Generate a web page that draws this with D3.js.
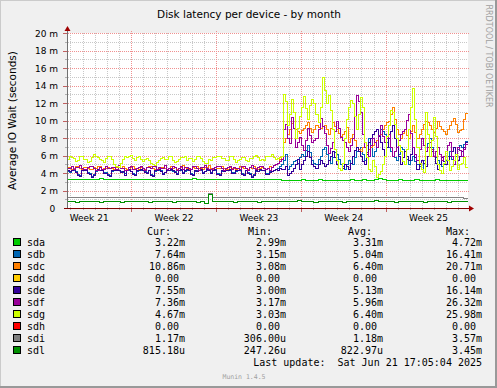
<!DOCTYPE html>
<html>
<head>
<meta charset="utf-8">
<script src="https://cdn.jsdelivr.net/npm/d3@7"></script>
<style>
body { margin:0; background:#f0f0f0; }
svg text { font-family: "DejaVu Sans", sans-serif; }
svg text.mono { font-family: "DejaVu Sans Mono", monospace; white-space: pre; }
</style>
</head>
<body>
<svg id="drawing_region"></svg>
<script>
// device names + munin palette
const devices = ['sda','sdb','sdc','sdd','sde','sdf','sdg','sdh','sdi','sdl'];
const deviceColors = ['#00cc00','#0066b3','#ff8000','#ffcc00','#330099','#990099','#ccff00','#ff0000','#808080','#008f00'];

// samples spread evenly over the 33 days ending at last update (values in ms)
// quiet devices: every 8h (100 samples)
const sda = [
  3.35,3.35,3.35,3.35,3.35,3.35,3.35,3.35,3.35,3.45,
  3.35,3.35,3.35,3.35,3.35,3.35,3.35,3.35,3.35,3.35,
  3.35,3.35,3.35,3.35,3.35,3.35,3.35,3.35,3.35,3.35,
  3.35,3.35,3.45,3.35,3.35,3.35,3.35,3.35,3.35,3.35,
  3.35,3.35,3.35,3.35,3.35,3.35,3.35,3.35,3.35,3.35,
  3.35,3.35,3.35,3.35,3.25,3.25,3.25,3.25,3.25,3.3,
  3.25,3.25,3.25,3.3,3.25,3.25,3.25,3.25,3.25,3.25,
  3.25,3.3,3.25,3.25,3.3,3.25,3.25,3.3,3.45,3.3,
  3.25,3.25,3.25,3.3,3.25,3.25,3.25,3.3,3.25,3.25,
  3.25,3.25,3.3,3.25,3.25,3.25,3.25,3.25,3.25,3.22
];
const sdd = [
  0,0,0,0,0,0,0,0,0,0, 0,0,0,0,0,0,0,0,0,0,
  0,0,0,0,0,0,0,0,0,0, 0,0,0,0,0,0,0,0,0,0,
  0,0,0,0,0,0,0,0,0,0, 0,0,0,0,0,0,0,0,0,0,
  0,0,0,0,0,0,0,0,0,0, 0,0,0,0,0,0,0,0,0,0,
  0,0,0,0,0,0,0,0,0,0, 0,0,0,0,0,0,0,0,0,0
];
const sdh = [
  0,0,0,0,0,0,0,0,0,0, 0,0,0,0,0,0,0,0,0,0,
  0,0,0,0,0,0,0,0,0,0, 0,0,0,0,0,0,0,0,0,0,
  0,0,0,0,0,0,0,0,0,0, 0,0,0,0,0,0,0,0,0,0,
  0,0,0,0,0,0,0,0,0,0, 0,0,0,0,0,0,0,0,0,0,
  0,0,0,0,0,0,0,0,0,0, 0,0,0,0,0,0,0,0,0,0
];
const sdi = [
  1.2,1.2,1.2,1.3,1.2,1.2,1.2,1.2,1.3,1.2,
  1.2,1.2,1.3,1.2,1.2,1.2,1.2,1.3,1.2,1.2,
  1.2,1.3,1.2,1.2,1.2,1.2,1.3,1.2,1.2,1.2,
  1.3,1.2,1.2,1.2,1.2,1.2,1.7,1.2,1.2,1.3,
  1.2,1.2,1.2,1.3,1.2,1.2,1.2,1.2,1.3,1.2,
  1.2,1.2,1.3,1.2,1.2,1.2,1.2,1.3,1.2,1.2,
  1.2,1.3,1.2,1.2,1.2,1.2,1.2,1.3,1.2,1.2,
  1.2,1.2,1.3,1.2,1.2,1.2,1.3,1.2,1.2,1.2,
  1.3,1.2,1.2,1.2,1.2,1.3,1.2,1.2,1.2,1.2,
  1.3,1.2,1.2,1.2,1.3,1.2,1.2,1.2,1.2,1.17
];
const sdl = [
  0.8,0.8,0.8,0.7,0.8,0.8,0.8,0.8,0.8,0.7,
  0.8,0.8,0.8,0.8,0.7,0.8,0.8,0.8,0.8,0.8,
  0.8,0.7,0.8,0.8,0.8,0.8,0.8,0.7,0.8,0.8,
  0.8,0.8,0.8,0.7,0.8,0.6,1.6,0.8,0.8,0.8,
  0.8,0.8,0.7,0.8,0.8,0.8,0.8,0.8,0.7,0.8,
  0.8,0.8,0.8,0.8,0.8,0.8,0.8,0.8,0.9,0.8,
  0.8,0.8,0.7,0.8,0.8,0.8,0.8,0.8,0.8,0.7,
  0.8,0.8,0.8,0.8,0.8,0.8,0.8,0.9,0.8,0.8,
  0.8,0.8,0.7,0.8,0.8,0.8,0.8,0.8,0.8,0.7,
  0.8,0.8,0.8,0.8,0.8,0.7,0.8,0.8,0.8,0.82
];

// busy devices: every 4h (199 samples)
const sdb = [
  4.3,4.2,4.1,4.3,4.4,4.2,3.9,3.8,4.3,4.4,
  4.4,4.1,4.0,3.7,3.9,4.2,4.4,4.3,4.3,4.1,
  4.1,3.9,3.8,4.2,4.3,4.4,4.4,4.2,4.1,4.0,
  4.3,4.4,4.2,4.0,3.9,4.2,4.3,4.4,4.4,4.2,
  4.1,4.3,3.9,3.8,4.2,4.3,4.4,4.3,4.0,4.1,
  4.3,4.3,4.4,4.2,4.2,4.0,4.3,4.4,4.1,4.2,
  4.4,4.4,4.0,3.9,4.2,4.3,4.3,4.4,4.1,4.2,
  4.4,4.3,4.1,4.4,4.4,4.0,3.9,4.2,4.2,4.3,
  4.3,4.4,4.1,4.1,4.2,4.4,4.4,4.0,3.9,4.3,
  4.1,4.0,3.7,3.9,4.2,4.2,4.4,4.3,4.3,4.0,
  4.0,4.2,4.2,4.4,4.5,4.6,4.8,5.0,
  5.5,6.2,4.5,4.8,5.0,5.4,5.5,5.2,5.8,6.2,
  6.0,6.6,7.2,6.4,5.5,5.2,5.0,5.6,6.0,6.8,
  7.0,6.2,5.5,5.2,5.8,6.4,6.2,5.6,5.0,4.8,
  4.5,5.0,5.5,5.2,5.0,5.8,6.5,6.8,7.0,6.2,
  5.5,6.4,8.0,7.2,6.0,6.5,7.0,8.2,9.0,8.8,
  8.5,7.6,7.0,6.5,6.0,5.8,5.5,6.2,7.0,6.8,
  6.5,5.6,5.0,5.5,6.0,5.4,5.0,4.8,4.5,5.5,
  6.5,7.4,8.0,7.0,6.0,5.8,5.5,5.0,4.8,5.0,
  5.5,6.0,6.5,5.6,5.0,6.0,6.8,7.2,7.0,7.3,7.64
];
const sdc = [
  4.6,4.7,4.7,4.5,4.6,4.8,4.8,4.6,4.5,4.7,
  4.7,4.6,4.5,4.5,4.7,4.6,4.8,4.8,4.5,4.6,
  4.6,4.7,4.6,4.6,4.5,4.7,4.7,4.6,4.8,4.6,
  4.5,4.5,4.7,4.8,4.6,4.6,4.5,4.7,4.6,4.5,
  4.7,4.8,4.8,4.6,4.5,4.5,4.6,4.7,4.7,4.6,
  4.5,4.6,4.8,4.6,4.7,4.5,4.6,4.7,4.9,4.7,
  4.6,4.5,4.5,4.7,4.6,4.8,4.6,4.6,4.5,4.7,
  4.7,4.9,4.6,4.5,4.7,4.6,4.6,4.8,4.6,4.5,
  4.5,4.7,4.6,4.6,4.5,4.6,4.8,4.7,4.6,4.6,
  4.5,4.7,4.6,4.8,4.6,4.5,4.6,4.7,4.6,4.5,
  4.6,4.8,4.7,4.9,5.0,5.2,5.6,6.0,
  7.5,8.0,8.5,9.0,9.7,9.2,9.0,8.8,8.6,8.9,
  9.2,9.5,9.8,9.1,8.7,9.0,9.5,9.3,9.1,9.4,
  9.5,9.0,8.5,9.2,9.8,9.4,9.0,8.6,8.2,8.5,
  8.8,9.3,7.5,8.0,8.5,7.8,7.0,6.8,6.5,7.0,
  7.5,7.2,6.8,7.0,7.2,7.6,7.8,8.2,8.5,9.0,
  9.5,9.8,10.0,10.8,11.5,10.2,9.0,8.5,8.0,8.6,
  9.0,8.4,8.0,8.8,9.5,8.7,8.0,8.5,9.0,9.6,
  10.0,9.8,9.5,9.0,8.7,9.2,10.0,9.4,9.0,8.8,
  8.5,9.0,9.5,10.0,10.3,9.6,8.7,8.9,9.0,10.2,10.86
];
const sde = [
  4.4,4.3,4.2,4.4,4.5,4.1,3.8,3.7,4.4,4.4,
  4.3,4.0,3.9,3.6,3.8,4.3,4.5,4.4,4.4,4.0,
  4.0,3.8,3.7,4.3,4.4,4.4,4.3,4.1,4.2,3.8,
  4.4,4.5,4.2,3.9,3.8,4.3,4.4,4.5,4.4,4.1,
  4.0,4.3,3.8,3.7,4.3,4.4,4.5,4.2,3.9,4.1,
  4.4,4.4,4.5,4.3,4.1,3.9,4.3,4.5,4.0,4.3,
  4.5,4.4,3.9,3.8,4.3,4.2,4.4,4.5,4.0,4.2,
  4.5,4.4,4.0,4.4,4.5,3.9,3.8,4.3,4.2,4.4,
  4.4,4.5,4.0,4.0,4.3,4.4,4.5,3.9,3.8,4.3,
  4.0,3.9,3.6,3.8,4.3,4.2,4.5,4.3,4.4,3.9,
  3.9,4.1,4.2,4.3,4.5,4.4,4.6,4.5,
  4.5,4.8,3.8,4.0,4.2,4.6,5.0,5.6,4.5,5.0,
  5.5,6.0,6.5,5.8,5.0,4.8,4.6,5.0,5.5,5.2,
  4.8,5.0,5.5,6.0,6.5,5.8,5.0,4.6,4.3,4.6,
  5.0,4.8,4.5,5.2,6.0,6.6,7.0,6.5,6.0,5.4,
  5.0,6.2,7.5,8.0,8.5,8.8,9.0,8.2,7.5,6.8,
  6.0,7.0,8.0,8.8,9.5,8.0,7.0,6.0,5.0,5.8,
  6.5,6.0,5.5,6.2,7.0,5.8,4.5,5.0,5.5,5.2,
  4.8,6.0,7.0,6.5,6.0,5.2,4.5,5.0,5.8,5.4,
  5.0,5.5,6.0,6.5,7.0,6.2,5.5,6.0,6.5,7.0,7.55
];
const sdf = [
  4.7,4.6,4.6,4.8,4.5,4.7,4.7,4.9,4.6,4.5,
  4.5,4.7,4.8,4.8,4.6,4.4,4.4,4.7,4.5,4.5,
  4.8,4.6,4.6,4.7,4.7,4.5,4.9,4.6,4.6,4.4,
  4.4,4.7,4.8,4.5,4.5,4.6,4.7,4.8,4.6,4.4,
  4.7,4.7,4.6,4.8,4.8,4.5,4.7,4.6,4.6,4.9,
  4.5,4.6,4.6,4.8,4.7,4.4,4.6,4.8,4.5,4.7,
  4.7,4.6,4.5,4.8,4.8,4.6,4.4,4.7,4.7,4.9,
  4.6,4.5,4.5,4.6,4.7,4.8,4.8,4.6,4.4,4.6,
  4.7,4.8,4.5,4.7,4.6,4.6,4.5,4.8,4.8,4.6,
  4.4,4.7,4.9,4.6,4.5,4.7,4.8,4.8,4.6,4.5,
  4.6,4.4,4.7,4.9,5.0,5.2,5.4,5.6,
  9.0,9.6,8.0,7.4,10.4,9.2,7.0,7.6,8.1,7.2,
  6.6,7.8,9.1,8.4,7.5,7.8,8.0,9.0,10.3,9.4,
  8.6,7.2,6.3,6.9,7.5,8.8,10.0,9.2,8.1,7.8,
  7.5,7.0,6.5,7.2,8.0,10.5,12.9,12.2,11.0,8.5,
  7.0,6.4,6.0,7.2,8.0,7.6,7.0,8.4,9.5,8.2,
  7.5,8.0,8.5,7.0,6.0,6.5,7.0,7.8,8.5,8.8,
  9.0,10.1,10.8,8.6,7.0,6.2,5.5,6.8,8.0,7.2,
  6.5,7.0,7.5,6.8,6.0,6.5,7.0,6.2,5.5,6.0,
  6.5,7.2,7.5,6.0,5.0,6.2,7.0,6.6,6.0,6.8,7.36
];
const sdg = [
  5.3,5.6,6.0,5.8,5.7,5.4,5.5,5.9,5.9,5.6,
  5.6,5.3,5.4,5.8,6.2,6.0,5.8,5.6,5.5,5.3,
  5.7,5.9,5.9,5.6,5.0,4.8,4.7,5.2,5.6,5.9,
  5.8,6.0,6.1,5.7,5.5,5.8,5.9,5.6,5.4,5.6,
  5.7,5.5,5.2,5.0,4.9,5.3,5.5,5.7,5.8,5.6,
  5.6,5.9,5.9,5.5,5.3,5.4,5.6,5.8,5.8,6.0,
  5.5,5.7,5.7,5.4,5.6,5.9,6.0,5.7,5.4,5.2,
  5.2,5.6,5.5,5.8,5.8,6.0,6.0,5.7,5.7,5.5,
  5.5,5.9,5.9,5.6,5.3,5.5,5.6,5.8,5.8,5.5,
  5.4,5.7,5.7,6.0,6.1,5.8,5.5,5.6,5.5,5.9,
  5.9,6.0,6.2,5.8,5.6,5.7,5.8,5.9,
  13.0,12.2,9.5,10.8,12.5,11.0,8.0,9.2,10.5,11.6,
  12.8,11.4,10.2,11.8,12.5,12.0,10.8,9.8,11.5,15.0,
  13.5,12.0,12.9,11.2,9.0,6.8,5.5,4.6,4.3,5.2,
  8.0,10.2,11.5,12.4,12.0,10.5,9.0,10.8,12.7,11.6,
  7.5,5.8,4.5,4.2,5.5,4.8,3.6,3.9,4.2,5.0,
  6.0,8.2,9.5,11.2,11.0,9.6,8.0,7.2,6.5,5.4,
  5.0,6.8,9.0,11.5,13.7,10.2,7.0,5.2,4.5,4.1,
  11.0,8.5,6.0,7.8,10.4,8.2,5.0,4.3,4.0,5.2,
  6.5,5.5,4.3,4.8,5.5,6.2,4.5,5.0,5.2,5.8,4.67
];

// axis labels
const yTickValues = [0,2,4,6,8,10,12,14,16,18,20];
const yTickLabels = ['0 ','2 m','4 m','6 m','8 m','10 m','12 m','14 m','16 m','18 m','20 m'];
const weekStarts = ['2025-05-18','2025-05-25','2025-06-01','2025-06-08','2025-06-15'];
const weekLabels = ['Week 21','Week 22','Week 23','Week 24','Week 25'];

// legend table
const legendHeaders = ['Cur:','Min:','Avg:','Max:'];
const curValues = ['3.22m','7.64m','10.86m','0.00','7.55m','7.36m','4.67m','0.00','1.17m','815.18u'];
const minValues = ['2.99m','3.15m','3.08m','0.00','3.00m','3.17m','3.03m','0.00','306.00u','247.26u'];
const avgValues = ['3.31m','5.04m','6.40m','0.00','5.13m','5.96m','6.40m','0.00','1.18m','822.97u'];
const maxValues = ['4.72m','16.41m','20.71m','0.00','16.14m','26.32m','25.98m','0.00','3.57m','3.45m'];
const lastUpdate = 'Last update:  Sat Jun 21 17:05:04 2025';

const DAY = 24 * 3600 * 1000;
const endTime = new Date(Date.UTC(2025, 5, 21, 17, 5, 4));
const startTime = new Date(endTime - 33 * DAY);

const config = {
    parent: '#drawing_region',
    width: 497,
    height: 388,
    plot: {left:67, top:33, width:400, height:175},
    title: 'Disk latency per device - by month',
    ylabel: 'Average IO Wait (seconds)'
};

const series = devices.map((name, k) => {
    const vals = [sda,sdb,sdc,sdd,sde,sdf,sdg,sdh,sdi,sdl][k];
    const step = 33 * DAY / (vals.length - 1);
    return {
        name: name,
        color: deviceColors[k],
        values: vals.map((v, i) => ({ t: new Date(+startTime + i * step), v: v }))
    };
});

const svg = d3.select(config.parent)
    .attr('width', config.width)
    .attr('height', config.height);

// background + shaded frame
svg.append('rect').attr('width', config.width).attr('height', config.height).attr('fill', '#f0f0f0');
svg.append('path').attr('d', `M0,${config.height} V0 H${config.width}`)
    .attr('fill', 'none').attr('stroke', '#cbcbcb').attr('stroke-width', 2);
svg.append('path').attr('d', `M0,${config.height - 1} H${config.width - 1} V0`)
    .attr('fill', 'none').attr('stroke', '#999999').attr('stroke-width', 2);

const p = config.plot;
svg.append('rect')
    .attr('x', p.left).attr('y', p.top)
    .attr('width', p.width + 1).attr('height', p.height)
    .attr('fill', '#ffffff');

const xscale = d3.scaleUtc()
    .domain([startTime, endTime])
    .range([p.left + 0.5, p.left + p.width + 0.5]);

const yscale = d3.scaleLinear()
    .domain([0, 20])
    .range([p.top + p.height + 0.5, p.top + 0.5]);

const snap = v => Math.round(v - 0.5) + 0.5;
const grid = svg.append('g').attr('shape-rendering', 'crispEdges');

// minor grid
yscale.ticks(20).filter(v => v % 2 !== 0).forEach(v => {
    const y = snap(yscale(v));
    grid.append('line').attr('x1', p.left + 1).attr('x2', p.left + p.width + 1)
        .attr('y1', y).attr('y2', y)
        .attr('stroke', '#c8c8c8').attr('stroke-dasharray', '1,1');
    grid.append('line').attr('x1', p.left - 2).attr('x2', p.left)
        .attr('y1', y).attr('y2', y).attr('stroke', '#b0b0b0');
});
const days = d3.utcDay.range(startTime, endTime);
const sundays = d3.utcSunday.range(startTime, endTime);
days.filter(d => d.getUTCDay() !== 0).forEach(d => {
    const x = snap(xscale(d));
    grid.append('line').attr('x1', x).attr('x2', x)
        .attr('y1', p.top).attr('y2', p.top + p.height)
        .attr('stroke', '#c8c8c8').attr('stroke-dasharray', '1,1');
    grid.append('line').attr('x1', x).attr('x2', x)
        .attr('y1', p.top + p.height).attr('y2', p.top + p.height + 2).attr('stroke', '#b0b0b0');
});

// major grid
yTickValues.filter(v => v > 0).forEach(v => {
    const y = snap(yscale(v));
    grid.append('line').attr('x1', p.left + 1).attr('x2', p.left + p.width + 2)
        .attr('y1', y).attr('y2', y)
        .attr('stroke', '#f09090').attr('stroke-dasharray', '1,1');
    grid.append('line').attr('x1', p.left - 4).attr('x2', p.left)
        .attr('y1', y).attr('y2', y).attr('stroke', '#c06060');
});
sundays.forEach(d => {
    const x = snap(xscale(d));
    grid.append('line').attr('x1', x).attr('x2', x)
        .attr('y1', p.top - 2).attr('y2', p.top + p.height)
        .attr('stroke', '#f09090').attr('stroke-dasharray', '1,1');
    grid.append('line').attr('x1', x).attr('x2', x)
        .attr('y1', p.top + p.height).attr('y2', p.top + p.height + 4).attr('stroke', '#c06060');
});

// data lines, stepped like rrdtool
const line = d3.line()
    .x(d => snap(xscale(d.t)))
    .y(d => snap(yscale(d.v)))
    .curve(d3.curveStepBefore);

svg.append('g')
    .selectAll('path')
    .data(series)
    .enter()
    .append('path')
    .attr('d', d => line(d.values))
    .attr('fill', 'none')
    .attr('stroke', d => d.color)
    .attr('stroke-width', 1)
    .attr('shape-rendering', 'crispEdges');

// axes
const axisY = p.top + p.height + 0.5;
svg.append('line').attr('x1', p.left + 0.5).attr('x2', p.left + 0.5)
    .attr('y1', axisY).attr('y2', p.top - 5)
    .attr('stroke', '#707070').attr('shape-rendering', 'crispEdges');
svg.append('line').attr('x1', p.left - 3).attr('x2', p.left + p.width + 3)
    .attr('y1', axisY).attr('y2', axisY)
    .attr('stroke', '#800000').attr('shape-rendering', 'crispEdges');
svg.append('path')
    .attr('d', `M${p.left - 2.5},${p.top - 2} L${p.left + 3.5},${p.top - 2} L${p.left + 0.5},${p.top - 7} Z`)
    .attr('fill', '#a00000');
svg.append('path')
    .attr('d', `M${p.left + p.width + 2},${axisY - 3} L${p.left + p.width + 2},${axisY + 3} L${p.left + p.width + 7},${axisY} Z`)
    .attr('fill', '#a00000');

// tick labels
svg.append('g').selectAll('text')
    .data(yTickValues)
    .enter()
    .append('text')
    .style('white-space', 'pre')
    .style('font-size', '9px')
    .attr('text-anchor', 'end')
    .attr('x', p.left - 9)
    .attr('y', d => yscale(d) + 3.3)
    .text((d, i) => yTickLabels[i]);

svg.append('g').selectAll('text')
    .data(weekStarts)
    .enter()
    .append('text')
    .style('font-size', '9px')
    .attr('text-anchor', 'middle')
    .attr('x', d => xscale(d3.utcHour.offset(new Date(d + 'T00:00:00Z'), 84)))
    .attr('y', p.top + p.height + 13)
    .text((d, i) => weekLabels[i]);

// titles
svg.append('text')
    .style('font-size', '10.5px')
    .attr('text-anchor', 'middle')
    .attr('x', 249)
    .attr('y', 18)
    .text(config.title);

svg.append('text')
    .style('font-size', '10.5px')
    .attr('text-anchor', 'middle')
    .attr('transform', `translate(15.5, ${p.top + p.height / 2}) rotate(-90)`)
    .text(config.ylabel);

svg.append('text')
    .style('font-size', '8px')
    .attr('fill', '#a0a0a0')
    .attr('text-anchor', 'middle')
    .attr('transform', 'translate(486, 56) rotate(90)')
    .text('RRDTOOL / TOBI OETIKER');

// legend
const legendTop = 246;
const rowH = 12;
const colEnds = [185, 286, 383, 482];
const headerStarts = [147, 248, 348, 446];
const pad = s => /[a-z]$/.test(s) ? s : s + ' ';

const legend = svg.append('g');
legendHeaders.forEach((h, j) => {
    legend.append('text').attr('class', 'mono')
        .style('font-size', '10px')
        .attr('x', headerStarts[j]).attr('y', legendTop - rowH + 1)
        .text(h);
});
devices.forEach((name, k) => {
    const y = legendTop + k * rowH;
    legend.append('rect')
        .attr('x', 13.5).attr('y', y - 7.5)
        .attr('width', 7).attr('height', 7)
        .attr('fill', deviceColors[k])
        .attr('stroke', '#000');
    legend.append('text').attr('class', 'mono')
        .style('font-size', '10px')
        .attr('x', 27).attr('y', y)
        .text(name);
    [curValues, minValues, avgValues, maxValues].forEach((col, j) => {
        legend.append('text').attr('class', 'mono')
            .attr('xml:space', 'preserve')
            .style('font-size', '10px')
            .attr('text-anchor', 'end')
            .attr('x', colEnds[j]).attr('y', y)
            .text(pad(col[k]));
    });
});
legend.append('text').attr('class', 'mono')
    .attr('xml:space', 'preserve')
    .style('font-size', '10px')
    .attr('text-anchor', 'end')
    .attr('x', 482).attr('y', legendTop + 10 * rowH)
    .text(lastUpdate);
legend.append('text').attr('class', 'mono')
    .style('font-size', '6.5px')
    .attr('fill', '#a0a0a0')
    .attr('text-anchor', 'middle')
    .attr('x', 244).attr('y', legendTop + 10 * rowH + 13)
    .text('Munin 1.4.5');
</script>
</body>
</html>
